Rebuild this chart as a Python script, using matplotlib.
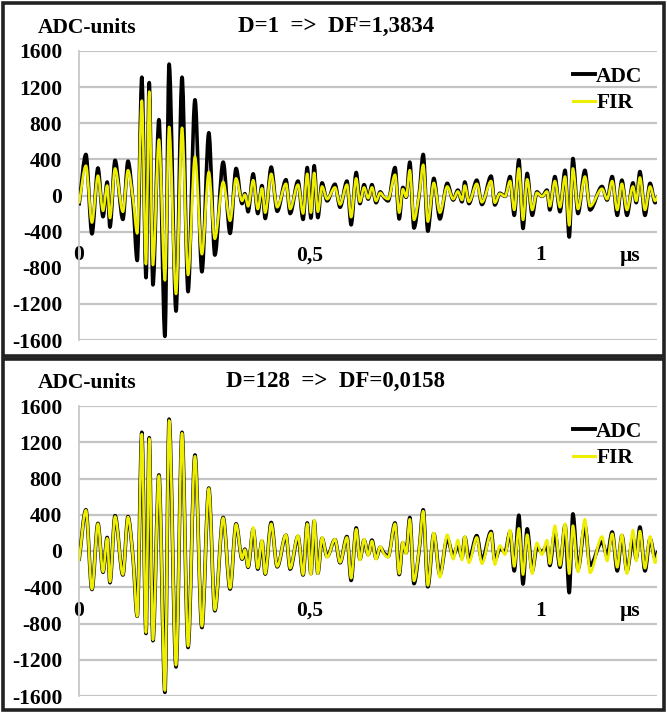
import matplotlib
matplotlib.use("Agg")
import matplotlib.pyplot as plt
from matplotlib.patches import Rectangle, PathPatch
from matplotlib.path import Path
from matplotlib.lines import Line2D

# ---------------- data ----------------
t_us = [0.000, 0.015, 0.028, 0.041, 0.052, 0.061, 0.067, 0.078, 0.095, 0.106,
        0.117, 0.126, 0.136, 0.145, 0.152, 0.160, 0.173, 0.186, 0.195, 0.210,
        0.223, 0.236, 0.251, 0.266, 0.281, 0.294, 0.312, 0.327, 0.340, 0.353,
        0.359, 0.366, 0.377, 0.387, 0.396, 0.403, 0.416, 0.429, 0.448, 0.457,
        0.474, 0.485, 0.494, 0.502, 0.509, 0.517, 0.526, 0.537, 0.554, 0.565,
        0.580, 0.589, 0.600, 0.608, 0.617, 0.626, 0.634, 0.643, 0.652, 0.660,
        0.669, 0.684, 0.693, 0.701, 0.708, 0.716, 0.725, 0.736, 0.745, 0.755,
        0.768, 0.781, 0.797, 0.810, 0.820, 0.829, 0.835, 0.844, 0.861, 0.872,
        0.892, 0.900, 0.911, 0.922, 0.933, 0.942, 0.952, 0.961, 0.970, 0.981,
        0.991, 1.002, 1.013, 1.019, 1.030, 1.041, 1.052, 1.061, 1.069, 1.080,
        1.095, 1.106, 1.132, 1.143, 1.154, 1.165, 1.175, 1.186, 1.199, 1.206,
        1.214, 1.225, 1.236, 1.247, 1.253]

adc = [-110, 455, -425, 305, -235, 150, -350, 390, -265, 380,
       -80, -720, 1310, -910, 1250, -990, 840, -1560, 1455, -1280,
       1310, -1065, 1060, -845, 695, -660, 370, -420, 300, -90,
       20, -180, 240, -200, 110, -255, 315, -175, 175, -200,
       160, -265, 310, -250, 330, -245, 140, -60, 125, -130,
       160, -325, 255, -90, 120, -40, 120, -80, 40, -20,
       -60, 310, -260, 90, -20, 370, -360, 0, 455, -395,
       190, -260, 135, -50, 60, -70, 150, -90, 170, -100,
       215, -105, 25, -10, 210, -220, 395, -365, 245, -220,
       40, -10, 60, -160, 210, -180, 280, -460, 410, -200,
       280, -160, 100, -50, 210, -220, 170, -220, 140, -80,
       265, -220, 135, -80, 0]

fir_d1 = [-90, 330, -300, 220, -170, 110, -250, 300, -180, 280,
          -40, -420, 1050, -760, 1150, -770, 620, -940, 760, -1090,
          750, -880, 430, -650, 260, -480, 150, -280, 190, -60,
          10, -120, 170, -150, 80, -190, 240, -130, 130, -150,
          120, -200, 240, -190, 250, -180, 100, -40, 90, -100,
          120, -240, 190, -70, 90, -30, 90, -60, 30, -15,
          -40, 230, -190, 70, -15, 280, -270, 0, 340, -290,
          140, -190, 100, -40, 45, -50, 110, -70, 130, -75,
          160, -80, 20, -10, 160, -160, 300, -270, 180, -160,
          30, -10, 45, -120, 160, -130, 210, -330, 300, -150,
          210, -120, 75, -40, 160, -160, 130, -160, 100, -60,
          200, -160, 100, -60, 0]

fir_d128 = [-110, 450, -420, 300, -230, 140, -340, 380, -260, 375,
            -80, -720, 1290, -900, 1240, -980, 830, -1540, 1440, -1260,
            1300, -1050, 1045, -830, 690, -650, 365, -410, 295, -85,
            15, -175, 260, -190, 120, -250, 300, -170, 180, -190,
            170, -260, 300, -260, 340, -250, 150, -70, 130, -125,
            150, -300, 240, -100, 130, -50, 110, -90, 50, -30,
            -70, 300, -250, 100, -30, 350, -330, 10, 440, -380,
            200, -290, 180, -90, 120, -100, 160, -130, 150, -140,
            200, -150, 60, -40, 230, -170, 250, -260, 180, -250,
            90, -40, 120, -140, 280, -160, 300, -250, 280, -230,
            350, -240, 160, -110, 190, -180, 180, -250, 230, -110,
            220, -190, 160, -130, -20]

y_ticks = [-1600, -1200, -800, -400, 0, 400, 800, 1200, 1600]
x_ticks = [0.0, 0.5, 1.0, 1.193]
x_tick_labels = ["0", "0,5", "1", "µs"]
panel_titles = ["D=1  =>  DF=1,3834", "D=128  =>  DF=0,0158"]
y_title = "ADC-units"
series_names = ["ADC", "FIR"]


def smooth_path(x, y):
    """Smoothed line (like a spreadsheet 'smoothed line') through the points."""
    n = len(x)
    slopes = [(y[i + 1] - y[i]) / (x[i + 1] - x[i]) for i in range(n - 1)]
    tang = [0.0] * n
    tang[0] = slopes[0]
    tang[-1] = slopes[-1]
    for i in range(1, n - 1):
        a, b = slopes[i - 1], slopes[i]
        tang[i] = 0.0 if a * b <= 0 else 2 * a * b / (a + b)
    verts = [(x[0], y[0])]
    codes = [Path.MOVETO]
    for i in range(n - 1):
        h = x[i + 1] - x[i]
        verts += [(x[i] + h / 3, y[i] + tang[i] * h / 3),
                  (x[i + 1] - h / 3, y[i + 1] - tang[i + 1] * h / 3),
                  (x[i + 1], y[i + 1])]
        codes += [Path.CURVE4] * 3
    return Path(verts, codes)


# ---------------- figure ----------------
W, H = 667, 713
fig = plt.figure(figsize=(W / 100, H / 100), dpi=100)
serif = ["Liberation Serif", "DejaVu Serif"]
YELLOW = "#eeee00"
FS = 15.5


def fx(px):
    return px / W


def fy(py):
    return 1 - py / H


for (y0, y1) in [(3, 356), (359, 710)]:
    fig.patches.append(Rectangle((fx(3), fy(y1)), fx(661), (y1 - y0) / H,
                                 transform=fig.transFigure, fill=False,
                                 edgecolor="#222222", linewidth=2.6, zorder=0))

panels = [
    dict(top=51, bottom=340, fir=fir_d1, title=panel_titles[0], head=28),
    dict(top=406, bottom=696, fir=fir_d128, title=panel_titles[1], head=383),
]

for p in panels:
    ax = fig.add_axes([fx(79), fy(p["bottom"]), fx(657 - 79), (p["bottom"] - p["top"]) / H])
    ax.set_xlim(0, 1.251)
    ax.set_ylim(-1600, 1600)
    ax.set_yticks(y_ticks)
    ax.set_yticklabels([str(v) for v in y_ticks])
    ax.yaxis.grid(True, color="#c4c4c4", linewidth=1.6)
    ax.set_axisbelow(True)
    for s in ["top", "right", "bottom"]:
        ax.spines[s].set_visible(False)
    ax.spines["left"].set_color("#c4c4c4")
    ax.spines["left"].set_linewidth(1.2)
    ax.spines["bottom"].set_position(("data", 0))
    ax.tick_params(axis="y", length=0, pad=12)
    ax.tick_params(axis="x", length=0, pad=36)
    ax.set_xticks(x_ticks)
    ax.set_xticklabels(x_tick_labels)
    for lab in ax.get_yticklabels() + ax.get_xticklabels():
        lab.set_fontfamily(serif)
        lab.set_fontweight("bold")
        lab.set_fontsize(FS)
    ax.axhline(0, color="#c4c4c4", linewidth=1.2, zorder=1)

    ax.add_patch(PathPatch(smooth_path(t_us, adc), fill=False, edgecolor="black",
                           linewidth=2.6, joinstyle="round", zorder=3))
    ax.add_patch(PathPatch(smooth_path(t_us, p["fir"]), fill=False, edgecolor=YELLOW,
                           linewidth=1.9, joinstyle="round", zorder=4))

    ax.legend([Line2D([], [], color="black", linewidth=2.8),
               Line2D([], [], color=YELLOW, linewidth=2.2)],
              series_names, loc="upper right", bbox_to_anchor=(0.99, 0.975),
              frameon=False, handlelength=1.05, handletextpad=0.05,
              labelspacing=0.3, borderaxespad=0,
              prop=dict(family=serif, weight="bold", size=FS))

    fig.text(fx(87), fy(p["head"]), y_title, ha="center", va="center",
             fontfamily=serif, fontweight="bold", fontsize=FS)
    fig.text(fx(336), fy(p["head"] - 2), p["title"], ha="center", va="center",
             fontfamily=serif, fontweight="bold", fontsize=16.5)

fig.savefig("out.png", dpi=100)
